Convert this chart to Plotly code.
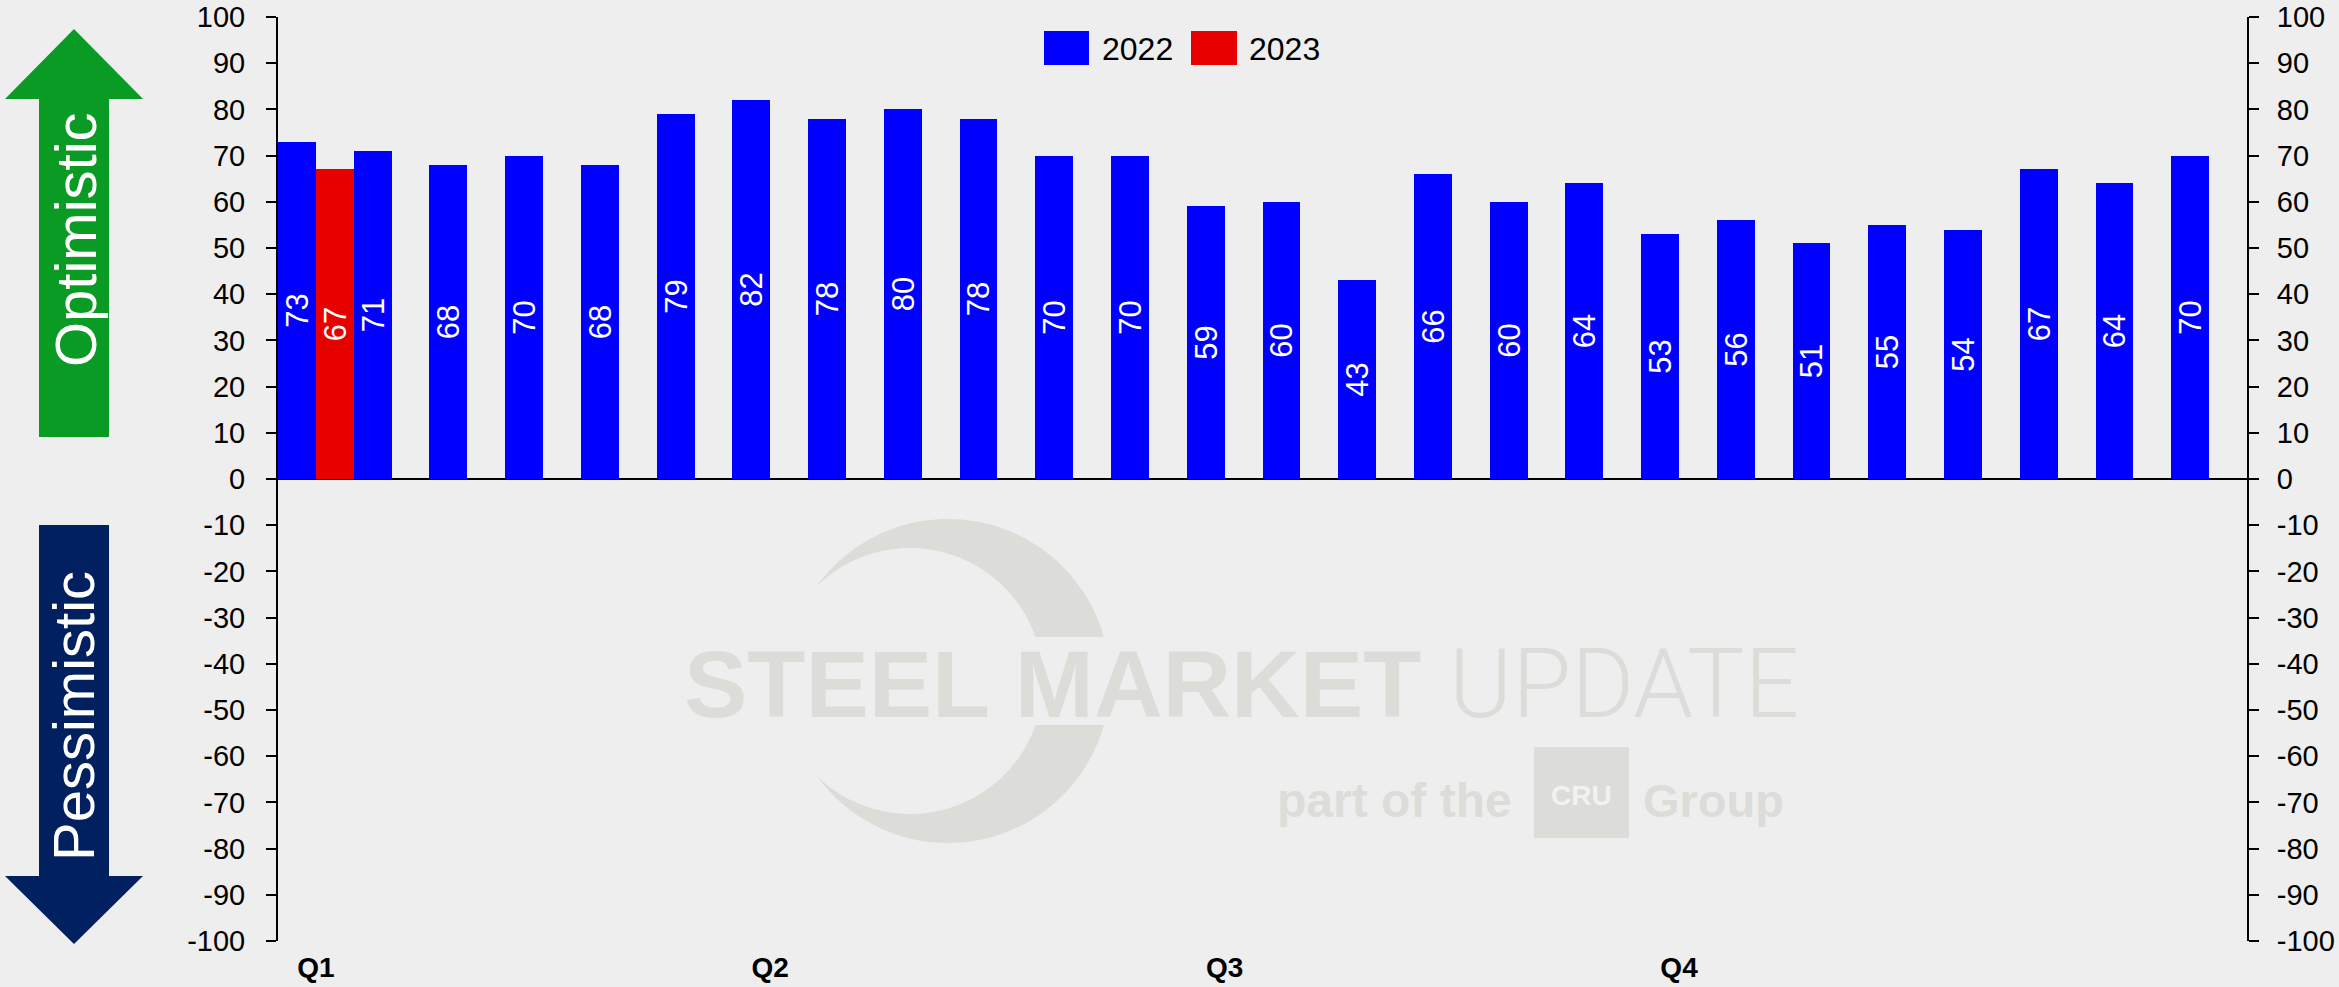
import numpy as np
import plotly.graph_objects as go

# ---------------- data ----------------
periods = list(range(26))                      # bi-weekly survey periods of the year
quarter_tick_pos = [0, 6, 12, 18]
quarter_tick_labels = ["Q1", "Q2", "Q3", "Q4"]
value_ticks = list(range(-100, 101, 10))
value_tick_labels = [str(v) for v in value_ticks]   # plain hyphen minus, as in the source
series_2022_name = "2022"
series_2023_name = "2023"
values_2022 = [73, 71, 68, 70, 68, 79, 82, 78, 80, 78, 70, 70, 59,
               60, 43, 66, 60, 64, 53, 56, 51, 55, 54, 67, 64, 70]
values_2023 = [67] + [None] * 25

# ---------------- style ----------------
W, H = 2339, 987
L, R, T, B = 278, 2247, 17, 941          # plot area in pixels
BG = "#EEEEEE"
BLUE = "#0000FF"
RED = "#E60000"
GREEN = "#0A9B24"
NAVY = "#00205F"
WM = "#DCDCD8"
FONT = "Liberation Sans, Arial, sans-serif"


def pp(x, y):
    """pixel -> paper coordinates (decorations only)"""
    return (x - L) / (R - L), 1 - (y - T) / (B - T)


def path(points):
    s = ""
    for i, (x, y) in enumerate(points):
        fx, fy = pp(x, y)
        s += ("M" if i == 0 else "L") + f"{fx:.5f},{fy:.5f}"
    return s + "Z"


fig = go.Figure()
fig.add_trace(go.Bar(
    x=periods, y=values_2022, name=series_2022_name, marker_color=BLUE,
    marker_line_width=0,
    text=[str(v) for v in values_2022], textposition="inside",
    insidetextanchor="middle", textangle=-90, constraintext="none",
    textfont=dict(color="white", size=31, family=FONT),
    showlegend=False, hoverinfo="x+y"))
fig.add_trace(go.Bar(
    x=periods, y=values_2023, name=series_2023_name, marker_color=RED,
    marker_line_width=0,
    text=[("" if v is None else str(v)) for v in values_2023], textposition="inside",
    insidetextanchor="middle", textangle=-90, constraintext="none",
    textfont=dict(color="white", size=31, family=FONT),
    showlegend=False, hoverinfo="x+y"))
# invisible trace to carry the right-hand axis
fig.add_trace(go.Scatter(x=[0], y=[None], yaxis="y2", showlegend=False,
                         hoverinfo="skip", mode="markers"))

yax = dict(range=[-100, 100], tickmode="array", tickvals=value_ticks, ticktext=value_tick_labels,
           ticks="outside", ticklen=10,
           tickwidth=2, tickcolor="black", showline=True, linecolor="black",
           linewidth=2, showgrid=False, tickfont=dict(size=29, color="black", family=FONT),
           fixedrange=True, automargin=False)

fig.update_layout(
    width=W, height=H,
    margin=dict(l=L, r=W - R, t=T, b=H - B, pad=0, autoexpand=False),
    paper_bgcolor=BG, plot_bgcolor=BG,
    barmode="group", bargap=0, bargroupgap=0,
    xaxis=dict(range=[-0.5, 25.5], tickmode="array", tickvals=quarter_tick_pos,
               ticktext=[f"<b>{t}</b>" for t in quarter_tick_labels],
               showline=False, ticks="", showgrid=False, zeroline=False, automargin=False,
               tickfont=dict(size=28, color="black", family=FONT), ticklabelstandoff=7),
    yaxis=dict(**yax, zeroline=True, zerolinecolor="black", zerolinewidth=2, side="left",
               ticklabelstandoff=15),
    yaxis2=dict(**yax, zeroline=False, overlaying="y", side="right", ticklabelstandoff=12),
    showlegend=False,
)

shapes = []
annos = []

# ---- legend (manual, from series names/colours) ----
for (x0, x1, tx, col, name) in [(1044, 1089, 1100, BLUE, series_2022_name),
                                 (1191, 1237, 1247, RED, series_2023_name)]:
    a0, b0 = pp(x0, 31)
    a1, b1 = pp(x1, 65)
    shapes.append(dict(type="rect", xref="paper", yref="paper", x0=a0, x1=a1, y0=b1, y1=b0,
                       fillcolor=col, line_width=0))
    ta, tb = pp(tx, 49)
    annos.append(dict(text=name, xref="paper", yref="paper", x=ta, y=tb, xanchor="left",
                      yanchor="middle", showarrow=False,
                      font=dict(size=32, color="black", family=FONT)))

# ---- arrows ----
shapes.append(dict(type="path", xref="paper", yref="paper", layer="above",
                   path=path([(74, 29), (143, 99), (109, 99), (109, 437), (39, 437), (39, 99), (5, 99)]),
                   fillcolor=GREEN, line_width=0))
shapes.append(dict(type="path", xref="paper", yref="paper", layer="above",
                   path=path([(39, 525), (109, 525), (109, 876), (143, 876), (74, 944), (5, 876), (39, 876)]),
                   fillcolor=NAVY, line_width=0))
ax_, ay_ = pp(76, 240)
annos.append(dict(text="Optimistic", xref="paper", yref="paper", x=ax_, y=ay_, textangle=-90,
                  showarrow=False, xanchor="center", yanchor="middle",
                  font=dict(size=58, color="white", family=FONT)))
ax_, ay_ = pp(73, 716)
annos.append(dict(text="Pessimistic", xref="paper", yref="paper", x=ax_, y=ay_, textangle=-90,
                  showarrow=False, xanchor="center", yanchor="middle",
                  font=dict(size=58, color="white", family=FONT)))

# ---- watermark logo ----
co, Ro = (948.0, 681.0), 162.0
ci, ri = (910.0, 681.0), 133.0
cut = 44.0


def arc(c, r, a0, a1, n=60):
    t = np.radians(np.linspace(a0, a1, n))
    return [(c[0] + r * np.cos(v), c[1] + r * np.sin(v)) for v in t]


for sgn in (1, -1):
    o0 = np.degrees(np.arctan2(-94.5, -131.6))
    o1 = np.degrees(np.arctan2(-cut, np.sqrt(Ro ** 2 - cut ** 2)))
    i1 = np.degrees(np.arctan2(-cut, np.sqrt(ri ** 2 - cut ** 2)))
    i0 = np.degrees(np.arctan2(-94.5, -93.6))
    pts = arc(co, Ro, o0, o1) + arc(ci, ri, i1, i0)
    if sgn == -1:
        pts = [(x, 2 * 681 - y) for x, y in pts]
    shapes.append(dict(type="path", xref="paper", yref="paper", layer="below",
                       path=path(pts), fillcolor=WM, line_width=0))

bx0, by0 = pp(1534, 747)
bx1, by1 = pp(1629, 838)
shapes.append(dict(type="rect", xref="paper", yref="paper", layer="below",
                   x0=bx0, x1=bx1, y0=by1, y1=by0, fillcolor=WM, line_width=0))


def wm_text(txt, x, y, size, weight="bold", color=WM, family=FONT):
    a, b = pp(x, y)
    annos.append(dict(text=txt, xref="paper", yref="paper", x=a, y=b, xanchor="left",
                      yanchor="middle", showarrow=False,
                      font=dict(size=size, color=color, family=family, weight=weight)))


wm_text("STEEL MARKET", 682, 684, 95, "bold")
wm_text("UPDATE", 1447, 684, 96, 300, family="Roboto, " + FONT)
wm_text("part of the", 1275, 800, 48, "bold")
wm_text("Group", 1641, 800, 47, "bold")
wm_text("CRU", 1549, 795, 28, "bold", color="#F2F2F0")

fig.update_layout(shapes=shapes, annotations=annos)
fig.write_html("out.html", config={"displayModeBar": False},
               post_script="document.body.style.margin='0';document.body.style.overflow='hidden';")
